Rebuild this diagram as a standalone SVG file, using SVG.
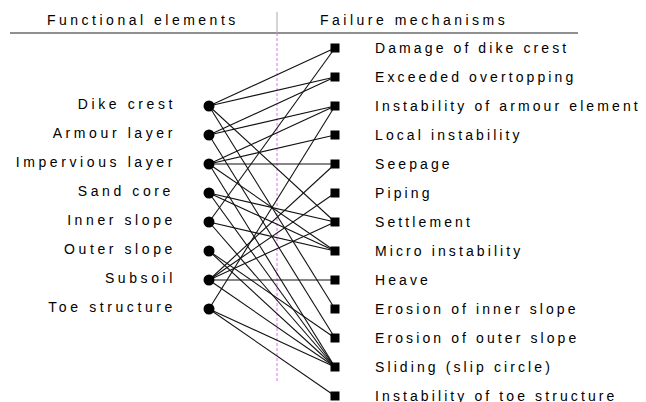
<svg xmlns="http://www.w3.org/2000/svg" width="646" height="402" viewBox="0 0 646 402">
  <style>
    .lbl { font-family: "Liberation Sans", Arial, sans-serif; font-size: 14px; letter-spacing: 3.1px; fill: #000; }
    .lbl-l { font-family: "Liberation Sans", Arial, sans-serif; font-size: 14px; letter-spacing: 3.6px; fill: #000; text-anchor: end; }
    .head { font-family: "Liberation Sans", Arial, sans-serif; font-size: 14px; letter-spacing: 3.5px; fill: #000; }
    .rule { stroke: #222; stroke-width: 1.2; fill: none; }
    .link { stroke: #111; stroke-width: 1.1; fill: none; }
    .elem { fill: #000; }
    .mech { fill: #000; }
  </style>
  <rect width="646" height="402" fill="#fff"/>

  <!-- column headings -->
  <g id="headings">
    <text class="head" x="47" y="25">Functional elements</text>
    <text class="head" x="320" y="25">Failure mechanisms</text>
    <line class="rule" x1="10" y1="33" x2="578" y2="33"/>
    <line x1="277" y1="12" x2="277" y2="33" stroke="#aaa" stroke-width="1"/>
    <line x1="277" y1="33" x2="277" y2="382" stroke="#e070f0" stroke-width="1" stroke-dasharray="3,2"/>
  </g>

  <!-- connectors: element (x=209) to mechanism (x=335) -->
  <g id="connectors" class="link">
    <!-- dike crest -->
    <line x1="209" y1="106" x2="335" y2="48"/>
    <line x1="209" y1="106" x2="335" y2="77"/>
    <line x1="209" y1="106" x2="335" y2="222"/>
    <line x1="209" y1="106" x2="335" y2="309"/>
    <!-- armour layer -->
    <line x1="209" y1="135" x2="335" y2="77"/>
    <line x1="209" y1="135" x2="335" y2="106"/>
    <line x1="209" y1="135" x2="335" y2="338"/>
    <!-- impervious layer -->
    <line x1="209" y1="164" x2="335" y2="106"/>
    <line x1="209" y1="164" x2="335" y2="135"/>
    <line x1="209" y1="164" x2="335" y2="164"/>
    <line x1="209" y1="164" x2="335" y2="251"/>
    <line x1="209" y1="164" x2="335" y2="367"/>
    <!-- sand core -->
    <line x1="209" y1="193" x2="335" y2="222"/>
    <line x1="209" y1="193" x2="335" y2="251"/>
    <line x1="209" y1="193" x2="335" y2="367"/>
    <!-- inner slope -->
    <line x1="209" y1="222" x2="335" y2="48"/>
    <line x1="209" y1="222" x2="335" y2="251"/>
    <line x1="209" y1="222" x2="335" y2="367"/>
    <!-- outer slope -->
    <line x1="209" y1="251" x2="335" y2="338"/>
    <line x1="209" y1="251" x2="335" y2="367"/>
    <!-- subsoil -->
    <line x1="209" y1="280" x2="335" y2="164"/>
    <line x1="209" y1="280" x2="335" y2="193"/>
    <line x1="209" y1="280" x2="335" y2="222"/>
    <line x1="209" y1="280" x2="335" y2="280"/>
    <line x1="209" y1="280" x2="335" y2="367"/>
    <!-- toe structure -->
    <line x1="209" y1="309" x2="335" y2="106"/>
    <line x1="209" y1="309" x2="335" y2="367"/>
    <line x1="209" y1="309" x2="335" y2="396"/>
  </g>

  <!-- functional elements -->
  <g id="dike-crest"><circle class="elem" cx="209" cy="106" r="5.5"/><text class="lbl-l" x="176" y="109">Dike crest</text></g>
  <g id="armour-layer"><circle class="elem" cx="209" cy="135" r="5.5"/><text class="lbl-l" x="176" y="138">Armour layer</text></g>
  <g id="impervious-layer"><circle class="elem" cx="209" cy="164" r="5.5"/><text class="lbl-l" x="176" y="167">Impervious layer</text></g>
  <g id="sand-core"><circle class="elem" cx="209" cy="193" r="5.5"/><text class="lbl-l" x="174" y="196">Sand core</text></g>
  <g id="inner-slope"><circle class="elem" cx="209" cy="222" r="5.5"/><text class="lbl-l" x="176" y="225">Inner slope</text></g>
  <g id="outer-slope"><circle class="elem" cx="209" cy="251" r="5.5"/><text class="lbl-l" x="176" y="254">Outer slope</text></g>
  <g id="subsoil"><circle class="elem" cx="209" cy="280" r="5.5"/><text class="lbl-l" x="176" y="283">Subsoil</text></g>
  <g id="toe-structure"><circle class="elem" cx="209" cy="309" r="5.5"/><text class="lbl-l" x="176" y="312">Toe structure</text></g>

  <!-- failure mechanisms -->
  <g id="damage-of-dike-crest"><rect class="mech" x="330.5" y="43.5" width="9" height="9"/><text class="lbl" x="375" y="53">Damage of dike crest</text></g>
  <g id="exceeded-overtopping"><rect class="mech" x="330.5" y="72.5" width="9" height="9"/><text class="lbl" x="375" y="82">Exceeded overtopping</text></g>
  <g id="instability-of-armour-element"><rect class="mech" x="330.5" y="101.5" width="9" height="9"/><text class="lbl" x="375" y="111">Instability of armour element</text></g>
  <g id="local-instability"><rect class="mech" x="330.5" y="130.5" width="9" height="9"/><text class="lbl" x="375" y="140">Local instability</text></g>
  <g id="seepage"><rect class="mech" x="330.5" y="159.5" width="9" height="9"/><text class="lbl" x="375" y="169">Seepage</text></g>
  <g id="piping"><rect class="mech" x="330.5" y="188.5" width="9" height="9"/><text class="lbl" x="375" y="198">Piping</text></g>
  <g id="settlement"><rect class="mech" x="330.5" y="217.5" width="9" height="9"/><text class="lbl" x="375" y="227">Settlement</text></g>
  <g id="micro-instability"><rect class="mech" x="330.5" y="246.5" width="9" height="9"/><text class="lbl" x="375" y="256">Micro instability</text></g>
  <g id="heave"><rect class="mech" x="330.5" y="275.5" width="9" height="9"/><text class="lbl" x="375" y="285">Heave</text></g>
  <g id="erosion-of-inner-slope"><rect class="mech" x="330.5" y="304.5" width="9" height="9"/><text class="lbl" x="375" y="314">Erosion of inner slope</text></g>
  <g id="erosion-of-outer-slope"><rect class="mech" x="330.5" y="333.5" width="9" height="9"/><text class="lbl" x="375" y="343">Erosion of outer slope</text></g>
  <g id="sliding"><rect class="mech" x="330.5" y="362.5" width="9" height="9"/><text class="lbl" x="375" y="372">Sliding (slip circle)</text></g>
  <g id="instability-of-toe-structure"><rect class="mech" x="330.5" y="391.5" width="9" height="9"/><text class="lbl" x="375" y="401">Instability of toe structure</text></g>
</svg>
